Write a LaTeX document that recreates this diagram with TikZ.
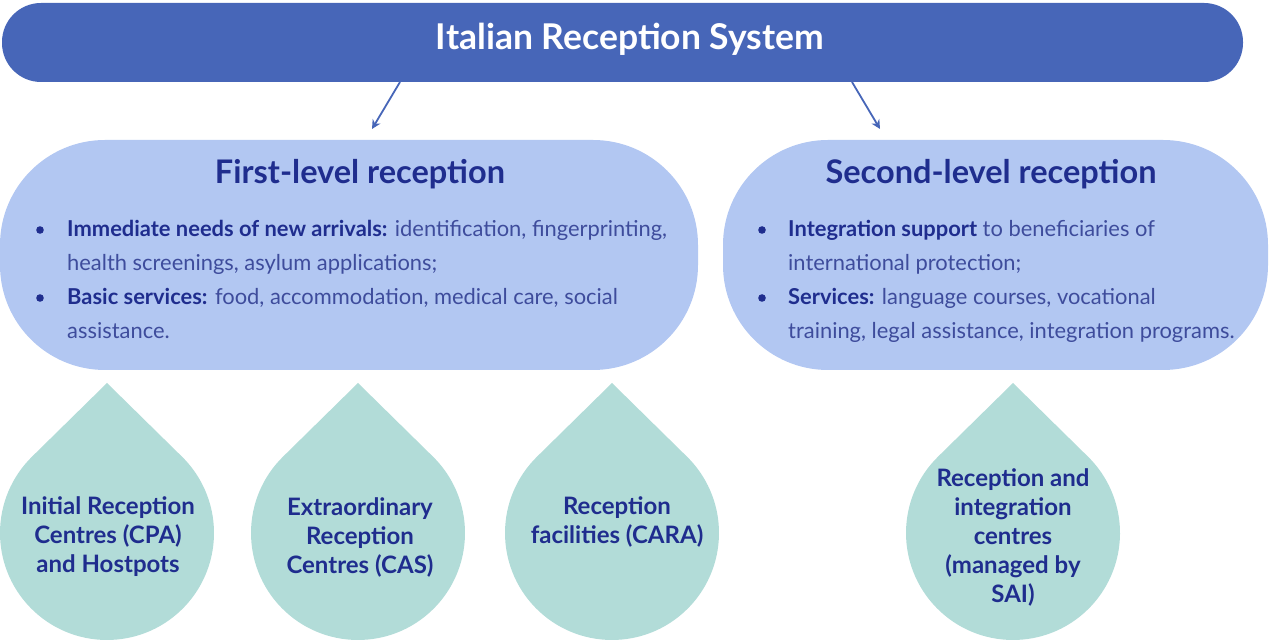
\documentclass[tikz,border=0pt]{standalone}
\usepackage{fontspec}
\setmainfont{Lato}
\usetikzlibrary{arrows.meta}
\definecolor{barblue}{HTML}{4766B8}
\definecolor{boxblue}{HTML}{B2C7F2}
\definecolor{dropteal}{HTML}{B2DCD8}
\definecolor{navy}{HTML}{1F2D8E}
\definecolor{bodyblue}{HTML}{3E4C9C}
\tikzset{
  levelbox/.style={fill=boxblue, draw=none, rounded corners=105pt, inner sep=0pt},
  leveltitle/.style={anchor=base, text=navy, font=\fontsize{32.5}{38}\selectfont\bfseries},
  bodyline/.style={anchor=base west, text=bodyblue, inner sep=0pt, font=\fontsize{21.9}{26}\selectfont},
  dot/.style={fill=navy},
  droptext/.style={text=navy, align=center, font=\fontsize{24}{29}\selectfont\bfseries},
  arr/.style={draw=barblue, line width=1.8pt, -{Stealth[length=9pt,width=9pt]}},
}
\newcommand{\drop}[1]{%
  \fill[dropteal] (#1,261) -- ({#1+107*cos(134.5)},{111+107*sin(134.5)})
    arc[start angle=134.5, end angle=405.5, radius=107] -- cycle;}
\begin{document}
\begin{tikzpicture}[x=1pt,y=1pt]
\useasboundingbox (0,0) rectangle (1271,644);

% top bar
\node[fill=barblue, rounded corners=39pt, minimum width=1241pt, minimum height=79pt, inner sep=0pt] (bar) at (622.5,601.5) {};
\node[anchor=base, text=white, font=\fontsize{35.5}{40}\selectfont\bfseries] (bartitle) at (630,594) {Italian Reception System};

% connectors
\coordinate (a1from) at (400,562);
\coordinate (a1to) at (372,515);
\coordinate (a2from) at (852,562);
\coordinate (a2to) at (880,515);
\draw[arr] (a1from) -- (a1to);
\draw[arr] (a2from) -- (a2to);

% level boxes
\node[levelbox, minimum width=698pt, minimum height=230pt] (first) at (349,389) {};
\node[levelbox, minimum width=545pt, minimum height=230pt] (second) at (995.5,389) {};

\node[leveltitle] (t1) at (360,460) {First-level reception};
\node[leveltitle] (t2) at (991,460) {Second-level reception};

% first-level bullets
\fill[dot] (40,414) circle (3.8);
\fill[dot] (40,346) circle (3.8);
\node[bodyline] (f1) at (67,407) {\textcolor{navy}{\bfseries Immediate needs of new arrivals:} identification, fingerprinting,};
\node[bodyline] (f2) at (67,373) {health screenings, asylum applications;};
\node[bodyline] (f3) at (67,339) {\textcolor{navy}{\bfseries Basic services:} food, accommodation, medical care, social};
\node[bodyline] (f4) at (67,305) {assistance.};

% second-level bullets
\fill[dot] (762,414) circle (3.8);
\fill[dot] (762,346) circle (3.8);
\node[bodyline] (s1) at (788,407) {\textcolor{navy}{\bfseries Integration support} to beneficiaries of};
\node[bodyline] (s2) at (788,373) {international protection;};
\node[bodyline] (s3) at (788,339) {\textcolor{navy}{\bfseries Services:} language courses, vocational};
\node[bodyline] (s4) at (788,305) {training, legal assistance, integration programs.};

% drops
\drop{107}
\drop{358}
\drop{612}
\drop{1013}

\node[droptext] (d1) at (108,107) {Initial Reception\\Centres (CPA)\\and Hostpots};
\node[droptext] (d2) at (360,107) {Extraordinary\\Reception\\Centres (CAS)};
\node[droptext] (d3) at (617,122) {Reception\\facilities (CARA)};
\node[droptext] (d4) at (1013,107) {Reception and\\integration\\centres\\(managed by\\SAI)};
\end{tikzpicture}
\end{document}
